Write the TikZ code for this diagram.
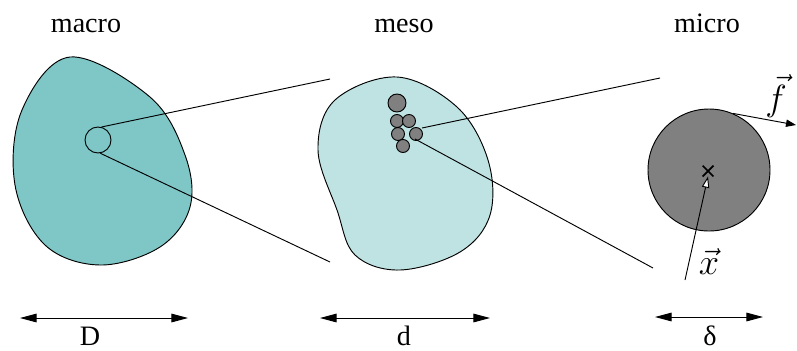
\documentclass[tikz,border=0pt]{standalone}
\usepackage{fontspec}
\setmainfont{Liberation Serif}
\usetikzlibrary{arrows.meta,shapes.misc}

\definecolor{corMacro}{RGB}{127,199,199}
\definecolor{corMeso}{RGB}{191,227,227}
\definecolor{corGrao}{RGB}{128,128,128}

\tikzset{
	linha/.style={line width=0.8pt},
	escala/.style={linha, {Triangle[length=5mm,width=2.6mm]}-{Triangle[length=5mm,width=2.6mm]}},
	particula/.style={circle, draw, linha, fill=corGrao, inner sep=0pt},
	titulo/.style={anchor=base},
}
\newcommand{\vetorG}[1]{\scalebox{1.25}{$\vec{#1}$}}

\begin{document}
\begin{tikzpicture}[x=0.03cm,y=-0.03cm,font=\fontsize{24}{28}\selectfont]
	\useasboundingbox (0,0) rectangle (797,350);

% titulos
	\node[titulo] (tMacro) at (86,32) {macro};
	\node[titulo] (tMeso) at (404,32) {meso};
	\node[titulo] (tMicro) at (707,32) {micro};

% escala macro
	\draw[linha, fill=corMacro] plot[smooth cycle, tension=0.6] coordinates {
		(70,57) (150,97) (185,155) (190,207) (160,247) (100,265)
		(45,245) (15,185) (22,110)};
	\node[circle, draw, linha, minimum size=0.78cm, inner sep=0pt] (lupa) at (98,140) {};

% escala meso
	\draw[linha, fill=corMeso] plot[smooth cycle, tension=0.6] coordinates {
		(397,77) (457,107) (488,160) (490,215) (460,252) (400,270)
		(355,255) (337,210) (318,150) (335,100)};
	\node[particula, minimum size=0.54cm] (p0) at (397,103) {};
	\foreach \x/\y [count=\i] in {397/121, 409/121, 398/134, 416/134, 403/146}
		\node[particula, minimum size=0.39cm] (p\i) at (\x,\y) {};

	\coordinate (mesoA) at (330,79);
	\coordinate (mesoB) at (330,262);
	\draw[linha] (lupa.75) -- (mesoA);
	\draw[linha] (lupa.-80) -- (mesoB);

% escala micro
	\node[circle, draw, linha, fill=corGrao, minimum size=3.66cm, inner sep=0pt] (grao) at (709,170) {};
	\node[cross out, draw, line width=1.5pt, minimum size=0.27cm, inner sep=0pt] (centro) at (708,171) {};

	\coordinate (pA) at (422,128);
	\coordinate (pB) at (415,139);
	\coordinate (microA) at (660,78);
	\coordinate (microB) at (653,268);
	\draw[linha] (pA) -- (microA);
	\draw[linha] (pB) -- (microB);

	\coordinate (origem) at (685,280);
	\draw[linha, -{Triangle[fill=white, length=3.4mm, width=2.2mm]}] (origem) -- (centro.south);
	\node (vx) at (709,262) {\vetorG{x}};

	\coordinate (forca) at (796,125);
	\draw[linha, -{Triangle[length=3mm, width=2.2mm]}] (grao.67) -- (forca);
	\node (vf) at (776,96) {\vetorG{f}};

% escalas de tamanho
	\foreach \a/\b/\y [count=\i] in {20/188/318, 320/490/318, 655/763/317}{
		\coordinate (e\i a) at (\a,\y);
		\coordinate (e\i b) at (\b,\y);
		\draw[escala] (e\i a) -- (e\i b);
	}
	\node[titulo] (lD) at (90,345) {D};
	\node[titulo] (ld) at (404,345) {d};
	\node[titulo] (ldelta) at (710,345) {δ};

\end{tikzpicture}
\end{document}
